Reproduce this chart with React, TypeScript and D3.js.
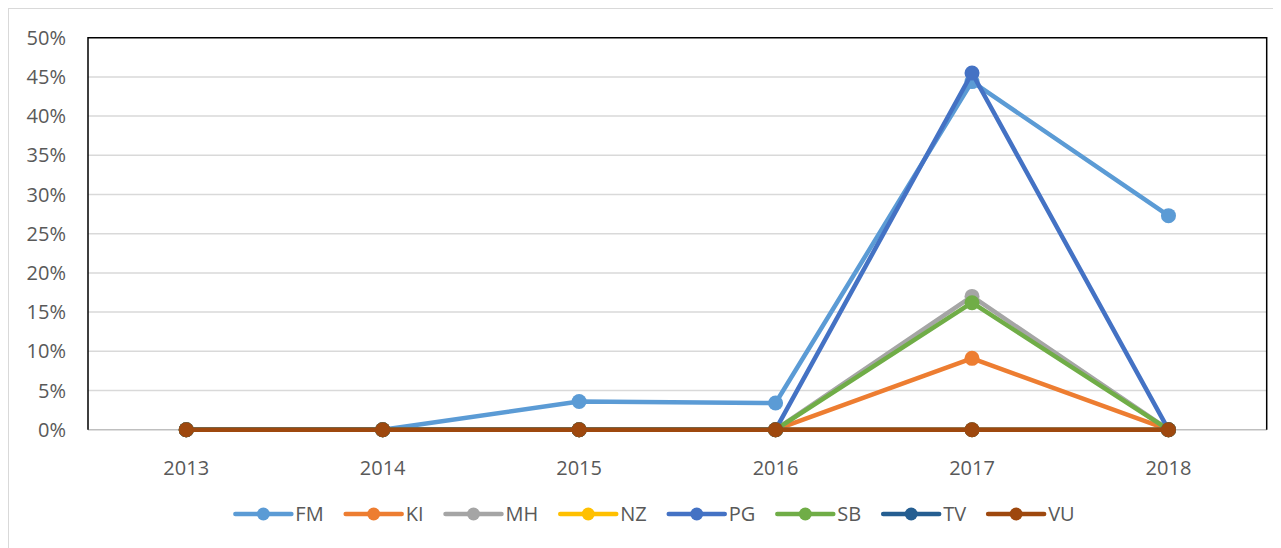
import React from "react";
import * as d3 from "d3";

const years = ["2013", "2014", "2015", "2016", "2017", "2018"];
const seriesNames = ["FM", "KI", "MH", "NZ", "PG", "SB", "TV", "VU"];
const seriesColors = ["#5B9BD5", "#ED7D31", "#A5A5A5", "#FFC000", "#4472C4", "#70AD47", "#255E91", "#9E480E"];
const FM = [0, 0, 0.036, 0.034, 0.444, 0.273];
const KI = [0, 0, 0, 0, 0.091, 0];
const MH = [0, 0, 0, 0, 0.170, 0];
const NZ = [0, 0, 0, 0, 0, 0];
const PG = [0, 0, 0, 0, 0.455, 0];
const SB = [0, 0, 0, 0, 0.162, 0];
const TV = [0, 0, 0, 0, 0, 0];
const VU = [0, 0, 0, 0, 0, 0];
const seriesValues = [FM, KI, MH, NZ, PG, SB, TV, VU];
const yTicks = [0, 0.05, 0.1, 0.15, 0.2, 0.25, 0.3, 0.35, 0.4, 0.45, 0.5];

const FONT = "'Open Sans', 'Noto Sans', sans-serif";
const TEXT = "#595959";

function measure(text: string, size: number) {
  const c = document.createElement("canvas").getContext("2d");
  if (!c) return text.length * size * 0.6;
  c.font = `${size}px 'Open Sans'`;
  return c.measureText(text).width;
}

export default function App() {
  const W = 1273, H = 540;
  const left = 80, right = 1258.7, top = 29.7, bottom = 421.7;
  const x = d3.scaleBand<string>().domain(years).range([left, right]);
  const y = d3.scaleLinear().domain([0, 0.5]).range([bottom, top]);
  const cx = (yr: string) => (x(yr) as number) + x.bandwidth() / 2;
  const line = d3.line<number>().x((_, i) => cx(years[i])).y((v) => y(v));

  // legend layout
  const fs = 20;
  const lineW = 56, textGap = 4, itemGap = 22;
  const widths = seriesNames.map((n) => measure(n, fs));
  const items: number[] = [];
  let acc = 0;
  widths.forEach((w, i) => {
    items.push(acc);
    acc += lineW + textGap + w + (i < widths.length - 1 ? itemGap : 0);
  });
  const legendStart = 647 - acc / 2;
  const legendY = 506;

  return (
    <svg width={W} height={H} style={{ display: "block" }} fontFamily={FONT}>
      <rect x={0.5} y={0.5} width={W + 50} height={H + 50} fill="#fff" stroke="#D9D9D9" strokeWidth={1} />
      {yTicks.slice(1, -1).map((t) => (
        <line key={t} x1={left} x2={right} y1={y(t)} y2={y(t)} stroke="#D9D9D9" strokeWidth={1.5} />
      ))}
      {yTicks.map((t) => (
        <text key={"l" + t} x={left - 22} y={y(t)} dy="0.35em" textAnchor="end" fontSize={fs} fill={TEXT}>
          {d3.format(".0%")(t)}
        </text>
      ))}
      <line x1={left} x2={right} y1={bottom} y2={bottom} stroke="#BFBFBF" strokeWidth={1.5} />
      <path d={`M${left},${bottom}V${top}H${right}V${bottom}`} fill="none" stroke="#000" strokeWidth={1.5} />
      {years.map((yr) => (
        <text key={yr} x={cx(yr)} y={bottom + 38} dy="0.35em" textAnchor="middle" fontSize={fs} fill={TEXT}>
          {yr}
        </text>
      ))}
      {seriesValues.map((vals, si) => (
        <g key={seriesNames[si]}>
          <path d={line(vals) || ""} fill="none" stroke={seriesColors[si]} strokeWidth={4.5} strokeLinejoin="round" strokeLinecap="round" />
          {vals.map((v, i) => (
            <circle key={i} cx={cx(years[i])} cy={y(v)} r={7.5} fill={seriesColors[si]} />
          ))}
        </g>
      ))}
      {seriesNames.map((n, i) => {
        const sx = legendStart + items[i];
        return (
          <g key={"lg" + n}>
            <line x1={sx} x2={sx + lineW} y1={legendY} y2={legendY} stroke={seriesColors[i]} strokeWidth={4.5} strokeLinecap="round" />
            <circle cx={sx + lineW / 2} cy={legendY} r={6.5} fill={seriesColors[i]} />
            <text x={sx + lineW + textGap} y={legendY} dy="0.35em" fontSize={fs} fill={TEXT}>
              {n}
            </text>
          </g>
        );
      })}
    </svg>
  );
}
